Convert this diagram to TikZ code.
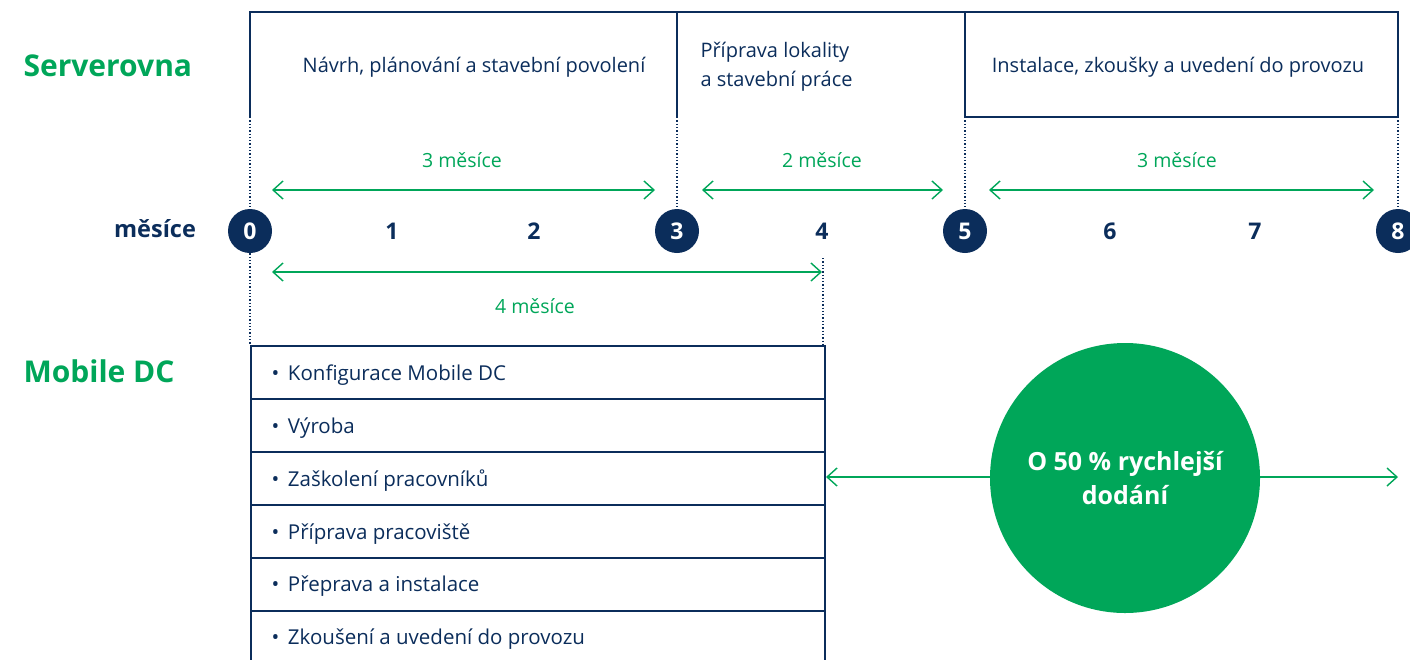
\documentclass[tikz,border=0pt]{standalone}
\usepackage{fontspec}
\setmainfont{Open Sans}
\usetikzlibrary{arrows.meta}
\definecolor{navy}{HTML}{0B2D5B}
\definecolor{dcgreen}{HTML}{00A659}
\newcommand{\fsz}[1]{\fontsize{#1}{#1}\selectfont}
\begin{document}
\begin{tikzpicture}[x=1pt,y=-1pt,
  frame/.style={draw=navy,line width=1.6pt},
  guide/.style={draw=navy,line width=1.3pt,dotted},
  tipb/.tip={Straight Barb[length=10pt,width=18pt,line width=1.4pt]},
  span/.style={draw=dcgreen,line width=1.6pt,tipb-tipb},
  oneway/.style={draw=dcgreen,line width=1.6pt,-tipb},
  spanlbl/.style={text=dcgreen,font=\fsz{19.5}},
  milestone/.style={circle,fill=navy,minimum size=44pt,inner sep=0pt,text=white,font=\bfseries\fsz{23}},
  monthnum/.style={text=navy,font=\bfseries\fsz{23}},
  heading/.style={text=dcgreen,font=\bfseries\fsz{30},anchor=west},
  phasetxt/.style={text=navy,font=\fsz{20}},
  rowbox/.style={draw=navy,line width=1.6pt,minimum width=574pt,minimum height=53pt,anchor=north west,inner sep=0pt},
  rowtxt/.style={text=navy,font=\fsz{20.5},anchor=west},
]
\useasboundingbox (0,0) rectangle (1410,659);

% headings
\node[heading] (hserv) at (20,66) {Serverovna};
\node[heading] (hmob) at (20,371) {Mobile DC};
\node[text=navy,font=\bfseries\fsz{23.5}] (mes) at (155,229) {měsíce};

% top phase frame
\coordinate (a0) at (250,117);
\coordinate (a3) at (677,117);
\coordinate (a5) at (965,117);
\coordinate (a8) at (1398,117);
\draw[frame] (a0) -- (250,12) -- (1398,12) -- (a8) -- (a5) -- (965,12);
\draw[frame] (677,12) -- (a3);
\node[phasetxt] (p1) at (474,67) {Návrh, plánování a stavební povolení};
\node[phasetxt,align=left,anchor=west] (p2) at (697,67) {Příprava lokality\\[8pt]a stavební práce};
\node[phasetxt] (p3) at (1178,67) {Instalace, zkoušky a uvedení do provozu};

% milestones
\node[milestone] (m0) at (250,231) {0};
\node[milestone] (m3) at (677,231) {3};
\node[milestone] (m5) at (965,231) {5};
\node[milestone] (m8) at (1398,231) {8};
\node[monthnum] (n1) at (392,231) {1};
\node[monthnum] (n2) at (534,231) {2};
\node[monthnum] (n4) at (822,231) {4};
\node[monthnum] (n6) at (1110,231) {6};
\node[monthnum] (n7) at (1255,231) {7};

% dotted guides
\coordinate (t0) at (250,345);
\coordinate (g4a) at (823,258);
\coordinate (g4b) at (823,345);
\draw[guide] (a0) -- (m0.north);
\draw[guide] (m0.south) -- (t0);
\draw[guide] (a3) -- (m3.north);
\draw[guide] (a5) -- (m5.north);
\draw[guide] (a8) -- (m8.north);
\draw[guide] (g4a) -- (g4b);

% spans
\coordinate (s1a) at (272,190); \coordinate (s1b) at (655,190);
\coordinate (s2a) at (702,190); \coordinate (s2b) at (943,190);
\coordinate (s3a) at (989,190); \coordinate (s3b) at (1374,190);
\coordinate (s4a) at (272,272); \coordinate (s4b) at (822,272);
\draw[span] (s1a) -- (s1b);
\draw[span] (s2a) -- (s2b);
\draw[span] (s3a) -- (s3b);
\draw[span] (s4a) -- (s4b);
\node[spanlbl] (l1) at (462,160) {3 měsíce};
\node[spanlbl] (l2) at (822,160) {2 měsíce};
\node[spanlbl] (l3) at (1177,160) {3 měsíce};
\node[spanlbl] (l4) at (535,306) {4 měsíce};

% mobile DC table
\node[rowbox] (r1) at (250,345) {};
\node[rowbox] (r2) at (250,398) {};
\node[rowbox] (r3) at (250,451) {};
\node[rowbox] (r4) at (250,504) {};
\node[rowbox] (r5) at (250,557) {};
\node[rowbox] (r6) at (250,610) {};
\node[rowtxt] (x1) at (268,375) {•\, Konfigurace Mobile DC};
\node[rowtxt] (x2) at (268,428) {•\, Výroba};
\node[rowtxt] (x3) at (268,481) {•\, Zaškolení pracovníků};
\node[rowtxt] (x4) at (268,534) {•\, Příprava pracoviště};
\node[rowtxt] (x5) at (268,586) {•\, Přeprava a instalace};
\node[rowtxt] (x6) at (268,639) {•\, Zkoušení a uvedení do provozu};

% faster delivery
\node[circle,fill=dcgreen,minimum size=270pt,inner sep=0pt,text=white,align=center,font=\bfseries\fsz{25}] (big) at (1125,478) {O 50 \% rychlejší\\[8pt]dodání};
\coordinate (e1) at (826,477);
\coordinate (e2) at (1398,477);
\draw[oneway] (big.west |- e1) -- (e1);
\draw[oneway] (big.east |- e2) -- (e2);
\end{tikzpicture}
\end{document}
